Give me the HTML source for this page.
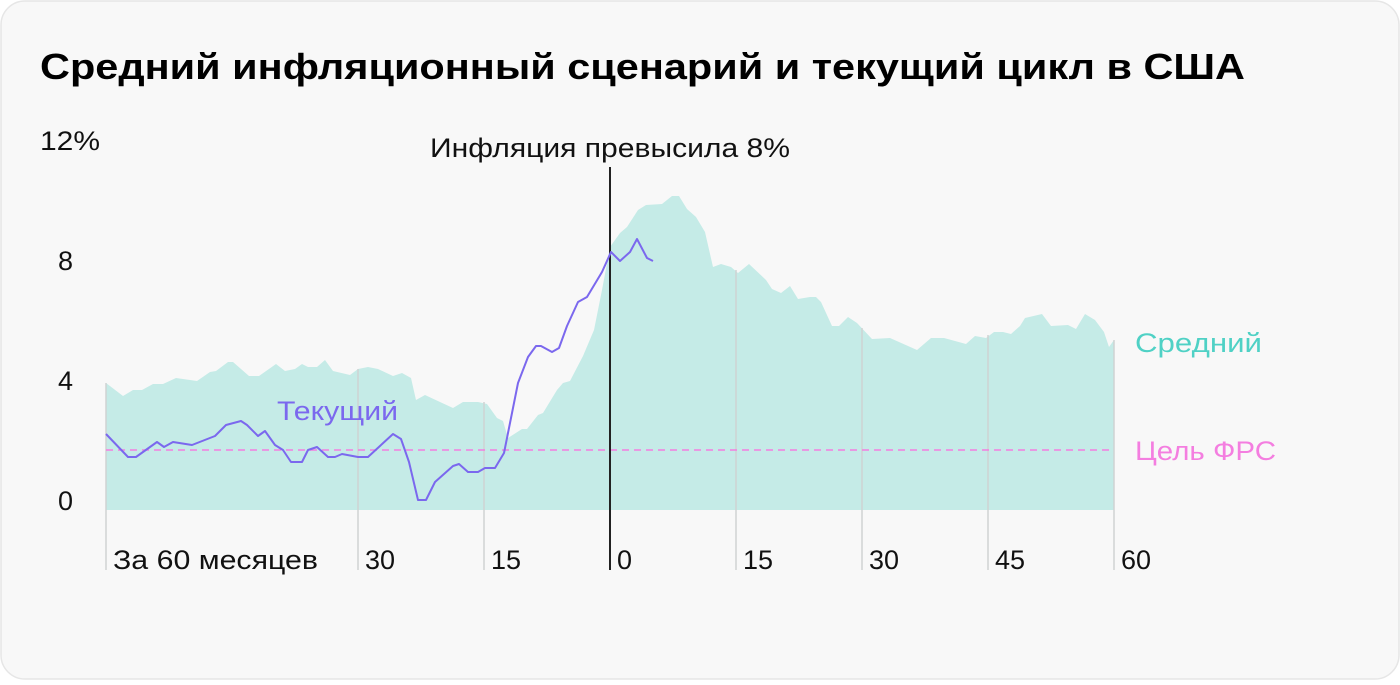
<!DOCTYPE html>
<html><head><meta charset="utf-8"><style>
html,body{margin:0;padding:0;background:#fff;}
</style></head><body>
<svg width="1400" height="680" xmlns="http://www.w3.org/2000/svg" font-family="'Liberation Sans', 'DejaVu Sans', sans-serif">
<rect x="1" y="1" width="1398" height="678" rx="24" fill="#f8f8f8" stroke="#e6e6e6" stroke-width="1.5"/>
<text x="40" y="79" font-size="36" font-weight="bold" fill="#000" textLength="1205" lengthAdjust="spacingAndGlyphs">Средний инфляционный сценарий и текущий цикл в США</text>
<g font-size="27" fill="#111">
<text x="40" y="150" textLength="60" lengthAdjust="spacingAndGlyphs">12%</text>
<text x="58" y="270">8</text>
<text x="58" y="390">4</text>
<text x="58" y="510">0</text>
</g>
<polygon fill="#c5ebe7" points="106,510 106,383 123,396 133,390 142,390 153,384 163,384 176,378 197,381 210,372 216,371 228,362 233,362 249,376 259,376 276,364 285,371 295,369 302,364 308,367 317,367 325,360 333,371 350,375 358,369 368,367 378,369 393,376 402,373 411,378 416,400 425,395 440,402 453,408 463,402 478,402 487,404 497,418 503,421 508,438 522,429 527,429 538,415 543,413 557,390 563,383 570,381 583,356 594,330 602,290 610,247 620,233 627,227 638,210 646,205 662,204 672,196 679,196 687,209 696,217 705,232 713,267 721,264 731,267 738,273 749,264 766,280 772,289 781,293 790,286 798,299 810,297 816,297 821,302 832,326 839,326 848,317 857,323 872,339 890,338 917,350 931,338 944,338 966,344 975,336 986,338 994,332 1003,332 1011,334 1020,326 1025,318 1042,314 1051,326 1068,325 1076,329 1085,314 1095,320 1104,332 1109,347 1114,340 1114,510"/>
<g stroke="#cfd3d3" stroke-width="1.5">
<line x1="106" y1="383" x2="106" y2="570"/>
<line x1="358" y1="369" x2="358" y2="570"/>
<line x1="484" y1="402" x2="484" y2="570"/>
<line x1="736" y1="270" x2="736" y2="570"/>
<line x1="862" y1="328" x2="862" y2="570"/>
<line x1="988" y1="335" x2="988" y2="570"/>
<line x1="1114" y1="340" x2="1114" y2="570"/>
</g>
<line x1="106" y1="450" x2="1114" y2="450" stroke="#f47ee0" stroke-width="1.5" stroke-dasharray="7,5"/>
<line x1="610" y1="167" x2="610" y2="570" stroke="#222" stroke-width="2"/>
<polyline fill="none" stroke="#7b68ee" stroke-width="2" stroke-linejoin="round" points="106,434 128,457 136,457 157,442 164,447 173,442 192,445 215,436 226,425 241,421 247,425 258,436 265,431 275,445 283,450 291,462 302,462 308,450 317,447 328,457 335,457 342,454 358,457 368,457 393,434 401,439 409,462 418,500 426,500 435,482 453,466 459,464 468,472 478,472 485,468 495,468 504,453 518,383 528,357 536,346 541,346 552,352 559,348 567,326 578,302 587,297 602,272 611,252 620,261 630,252 637,239 647,258 653,261"/>
<text x="430" y="157" font-size="27" fill="#111" textLength="360" lengthAdjust="spacingAndGlyphs">Инфляция превысила 8%</text>
<text x="277" y="420" font-size="27" fill="#7b68ee" textLength="121" lengthAdjust="spacingAndGlyphs">Текущий</text>
<text x="1135" y="352" font-size="27" fill="#4fd1c5" textLength="127" lengthAdjust="spacingAndGlyphs">Средний</text>
<text x="1135" y="460" font-size="27" fill="#f47ee0" textLength="141" lengthAdjust="spacingAndGlyphs">Цель ФРС</text>
<g font-size="27" fill="#111">
<text x="113" y="569" textLength="205" lengthAdjust="spacingAndGlyphs">За 60 месяцев</text>
<text x="365" y="569">30</text>
<text x="491" y="569">15</text>
<text x="617" y="569">0</text>
<text x="743" y="569">15</text>
<text x="869" y="569">30</text>
<text x="995" y="569">45</text>
<text x="1121" y="569">60</text>
</g>
</svg>
</body></html>
